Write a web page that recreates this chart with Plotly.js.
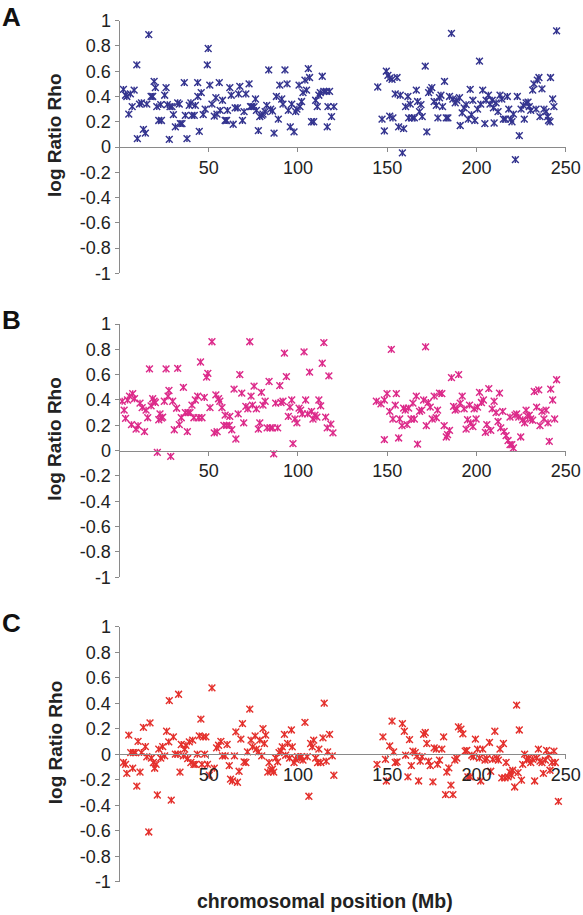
<!DOCTYPE html>
<html>
<head>
<meta charset="utf-8">
<script src="https://cdn.plot.ly/plotly-3.0.1.min.js"></script>
<style>html,body{margin:0;padding:0;background:#fff;}#chart{width:583px;height:915px;}</style>
</head>
<body>
<div id="chart"></div>
<script>
// ---------- data ----------
const xTickVals = [50, 100, 150, 200, 250];
const xTickText = ["50", "100", "150", "200", "250"];
const yTickVals = [1, 0.8, 0.6, 0.4, 0.2, 0, -0.2, -0.4, -0.6, -0.8, -1];
const yTickText = ["1", "0.8", "0.6", "0.4", "0.2", "0", "-0.2", "-0.4", "-0.6", "-0.8", "-1"];
const panelLetters = ["A", "B", "C"];
const yTitle = "log Ratio Rho";
const xTitle = "chromosomal position (Mb)";

// Panel A
const posA = [
  2.2,3.4,4.1,5.2,6.1,7.1,8.2,9.7,10,11.2,
  12.3,13.4,14.5,15.3,16.4,17.7,18.6,19.4,20.1,20.9,
  22.0,23.1,23.5,25.3,26.1,26.8,27.9,28.3,29.4,30.2,
  31.3,32.6,33.5,34.1,35,36.3,36.9,37.8,39.1,40,
  40.6,41.9,42.5,43.8,43.9,44.7,45.8,46.9,48,49.2,
  49.7,50.6,51.8,53.1,54,54.6,55.9,56.4,57.7,59.2,
  60,60.5,61.8,62.6,63.7,64.8,66.1,66.7,67.4,68.9,
  69.8,70.8,72.6,73.4,74.1,75.4,76.2,76.7,77.8,78.6,
  79.7,80.4,81.6,82.5,83.6,84.7,85.7,86.6,87.9,89,
  89.8,90.9,91.6,92.7,93.9,94.6,95.7,96.5,97.8,98.7,
  99.4,100.6,101.1,102,102.8,103.9,104.8,105.8,106.5,107.6,
  108.8,109.9,110.8,111.7,112.5,113.6,114.5,115.8,116.4,116.8,
  117.7,118.8,120.1,
  144.7,147.1,148.4,149.5,150.4,151.4,151.4,152.7,153.2,154.5,
  155.5,156.4,157.3,158.5,159.2,160.3,161.6,162,162.9,164,
  165.2,166.3,167,168.1,168.9,169.6,171.3,172.2,173.2,174.1,
  175,176.3,177.5,178.4,179.3,180.1,181,182.1,183.1,184,
  184.9,186,186.8,188.1,189,190.5,190.9,192,193.1,194.2,
  195.4,196.5,197.2,198,199.1,200.6,201.7,202.4,203.5,204.7,
  205.4,206.7,207.6,208.8,209.5,209.9,211,212.1,213.2,214.2,
  215.1,216.2,217.3,218.1,219.2,219.9,220.7,221.8,222.9,224,
  225,226.3,226.8,227.8,228.9,229.6,230.4,231.5,232.2,233.4,
  234.1,235,235.6,236.7,237.8,239,239.9,240.4,241.2,241.5,
  242.7,243.4,244.9
];
const rhoA = [
  0.456,0.41,0.40,0.26,0.42,0.32,0.45,0.65,0.066,0.34,
  0.35,0.14,0.11,0.34,0.89,0.40,0.40,0.52,0.47,0.32,
  0.21,0.335,0.21,0.41,0.47,0.335,0.06,0.32,0.32,0.256,
  0.16,0.35,0.34,0.185,0.185,0.51,0.25,0.066,0.33,0.35,
  0.25,0.25,0.33,0.51,0.40,0.124,0.43,0.256,0.30,0.65,
  0.78,0.49,0.34,0.245,0.39,0.26,0.51,0.29,0.37,0.21,
  0.21,0.29,0.47,0.41,0.18,0.31,0.31,0.42,0.48,0.21,
  0.28,0.42,0.50,0.32,0.32,0.32,0.38,0.29,0.13,0.24,
  0.25,0.26,0.28,0.33,0.61,0.30,0.285,0.11,0.40,0.22,
  0.49,0.38,0.34,0.61,0.50,0.29,0.16,0.34,0.12,0.28,
  0.30,0.49,0.32,0.36,0.43,0.53,0.45,0.62,0.55,0.20,
  0.20,0.37,0.32,0.41,0.43,0.56,0.44,0.44,0.16,0.32,
  0.44,0.24,0.32,
  0.475,0.22,0.127,0.60,0.567,0.546,0.245,0.535,0.23,0.42,
  0.55,0.16,0.41,-0.047,0.145,0.32,0.40,0.23,0.34,0.23,
  0.23,0.45,0.36,0.28,0.335,0.24,0.64,0.12,0.43,0.45,
  0.47,0.36,0.33,0.23,0.39,0.41,0.32,0.52,0.23,0.23,
  0.40,0.90,0.38,0.35,0.37,0.39,0.17,0.27,0.31,0.335,
  0.22,0.456,0.256,0.37,0.21,0.30,0.68,0.34,0.45,0.185,
  0.37,0.41,0.34,0.37,0.31,0.19,0.35,0.28,0.41,0.38,
  0.22,0.22,0.40,0.30,0.22,0.20,0.26,-0.10,0.40,0.09,
  0.30,0.33,0.22,0.35,0.356,0.32,0.29,0.45,0.50,0.30,
  0.53,0.55,0.24,0.46,0.30,0.28,0.24,0.21,0.20,0.55,
  0.38,0.32,0.92
];

// Panel B
const posB = [
  1.5,2.6,3.4,4.5,5.6,6.7,7.4,8.4,9.3,10.4,
  11.5,12.7,14,14.9,15.8,16.8,17.7,18.6,19.4,20.1,
  21.2,22,22.7,23.5,24.2,25.1,26.1,27.2,27.7,28.7,
  29.8,30.7,32,32.6,33.5,34.6,35.8,36.9,38,38.4,
  39.5,40.6,41.7,42.5,43.8,44.3,45.4,46.2,47.5,48.8,
  49.5,50.7,51.8,53.1,54,54.7,55.5,56.2,57.4,58.5,
  59.2,60,61.5,61.8,62.9,64.2,65.2,66.5,67.4,68.5,
  69.6,70.8,71.9,73,73.7,74.5,75.4,76.7,77.8,78.6,
  79.5,80.4,81.6,82.7,83.8,84.5,85.7,86.4,87.5,88.6,
  89.8,90.5,91.6,92.4,93.5,94.6,95.5,96.5,97.2,98.3,
  99.4,100.6,101.5,102.4,103.4,104.3,105.4,106.5,107.6,108.4,
  109.5,110.6,111.7,112.7,113.6,114.5,115.5,116.4,117.3,118.4,
  119.6,
  143.9,146.5,148.4,148.4,149.9,151.4,152.3,153.2,154.5,155.1,
  156.4,157,158.3,159.2,160.1,161.1,162,163.3,164.4,165.2,
  166.3,167,168.1,169.3,170.4,171.5,171.9,173,174.1,175.2,
  176.3,177.5,178.2,179.3,180.6,181.9,183.1,183.8,184.9,186,
  187.2,188.1,189,190,190.9,192,193.1,194.2,195,196.1,
  196.8,198,198.7,199.8,200.6,201.7,202.8,203.9,205,205.8,
  206.9,208,208.8,209.9,211,212.1,212.9,213.6,214.7,215.5,
  216.6,217.7,218.8,218.8,219.8,220.7,221.6,222.5,223.7,224.8,
  225.9,227,227.8,228.7,229.6,230.4,231.5,232.4,233.7,234.9,
  235.6,236.7,237.8,239,240.1,240.8,241.6,242.7,243.8,244.9
];
const rhoB = [
  0.39,0.32,0.255,0.40,0.43,0.205,0.45,0.41,0.17,0.197,
  0.375,0.34,0.15,0.32,0.26,0.645,0.354,0.41,0.39,0.38,
  -0.013,0.244,0.29,0.257,0.265,0.39,0.645,0.43,0.475,-0.045,
  0.39,0.165,0.335,0.65,0.205,0.26,0.50,0.30,0.15,0.30,
  0.30,0.36,0.26,0.40,0.43,0.26,0.70,0.26,0.42,0.58,
  0.61,0.34,0.86,0.14,0.44,0.15,0.41,0.39,0.34,0.20,
  0.28,0.20,0.20,0.27,0.165,0.486,0.092,0.29,0.60,0.454,
  0.22,0.35,0.33,0.86,0.43,0.36,0.51,0.33,0.17,0.22,
  0.46,0.36,0.39,0.18,0.546,0.18,0.18,-0.026,0.375,0.18,
  0.514,0.38,0.39,0.77,0.585,0.27,0.344,0.40,0.055,0.25,
  0.22,0.336,0.32,0.29,0.78,0.40,0.29,0.62,0.31,0.25,
  0.28,0.265,0.40,0.354,0.69,0.853,0.265,0.18,0.59,0.21,
  0.14,
  0.39,0.37,0.40,0.087,0.45,0.31,0.80,0.25,0.36,0.45,
  0.10,0.25,0.197,0.336,0.32,0.205,0.336,0.25,0.375,0.25,
  0.43,0.052,0.31,0.32,0.40,0.82,0.197,0.38,0.344,0.25,
  0.43,0.26,0.32,0.454,0.45,0.197,0.108,0.126,0.16,0.577,
  0.35,0.32,0.33,0.60,0.375,0.43,0.33,0.17,0.244,0.36,
  0.22,0.19,0.33,0.25,0.344,0.46,0.38,0.40,0.144,0.205,
  0.49,0.16,0.33,0.39,0.30,0.23,0.454,0.18,0.31,0.152,
  0.118,0.08,0.047,0.265,0.047,0.021,0.28,0.29,0.265,0.108,
  0.244,0.22,0.32,0.27,0.28,0.25,0.24,0.467,0.344,0.48,
  0.197,0.31,0.25,0.32,0.22,0.073,0.486,0.40,0.25,0.56
];

// Panel C
const posC = [
  2.2,3.4,4.1,5.2,6.3,7.4,7.8,8.9,9.7,10.4,
  11.5,12.3,13.4,14.5,15.3,16.4,17.1,17.9,19,19.7,
  20.5,21.2,22,23.1,24.2,25.3,26.4,27.6,27.9,29,
  30.2,31.3,32.6,33.1,33.9,34.6,35.8,36.5,37.2,38.2,
  39.1,40,41,41.7,42.5,43.6,44.7,45.6,46.2,46.9,
  47.7,48.4,49.3,50.3,51.8,53.1,54.4,55.5,56.8,57.7,
  59.2,60.3,61.5,62.2,63.3,64.4,65.2,66.1,67,68,
  68.9,69.8,70.8,71.7,73,73.7,74.5,76,76.7,77.8,
  78.6,79.7,80.4,81.2,81.9,83.1,83.8,84.9,85.7,86.4,
  87.5,88.6,89.4,90.5,91.2,92.4,93.1,94.2,95.3,96.3,
  96.8,97.8,98.7,99.8,100.9,102,102.8,103.9,105.2,106.1,
  107.1,108,108.8,109.9,111,111.7,112.8,114,114.7,115.8,
  116.6,117.7,119.2,120.1,
  144.3,147.6,149,149.5,151.4,152.7,153.6,154.5,155.5,158.5,
  159.6,160.3,161.6,162.5,163.5,164.4,165.7,166.7,167.6,168.5,
  169.5,170.4,171.3,172.2,173.2,174.1,175.6,176.3,177.5,178.2,
  179.3,180.6,181.6,182.7,183.4,184.5,185.7,186.8,187.9,189,
  189.9,191.3,192.4,193.7,194.6,195.2,196.5,197.4,198.3,199.4,
  200.6,201.7,202.4,203.5,204.8,205.8,207.3,208,209.1,210.3,
  211.4,212.3,213.2,214.2,215.1,216,216.6,217.7,218.8,219.6,
  220.3,221.4,222.5,223.3,224,225.2,225.9,227,228.1,229.3,
  230.4,231.5,232.6,233.7,234.7,235.6,236.7,237.5,238.6,239.3,
  240.4,241.2,242.3,243.4,244.2,245.9
];
const rhoC = [
  -0.065,-0.08,-0.15,0.15,0.013,-0.11,0.013,0.013,-0.25,0.10,
  -0.14,0.013,0.21,0.06,-0.02,-0.61,0.245,-0.03,-0.065,-0.11,
  -0.08,-0.32,0.04,-0.03,0.06,-0.013,0.18,0.097,0.42,-0.36,
  0.136,0,0,0.47,-0.14,0.076,-0.013,0.04,0.07,-0.034,
  0.097,-0.065,0.11,-0.08,-0.08,0,0.144,0.275,-0.08,0.136,
  0,0.136,-0.08,-0.165,0.52,-0.11,0.05,0.07,0.10,-0.013,
  -0.013,0.076,-0.09,-0.196,-0.21,-0.013,0.175,-0.22,-0.134,0.118,
  0.24,-0.06,-0.065,0.018,0.353,0.11,0.058,0.144,0.04,0.018,
  0.11,-0.013,0.20,0.084,0.15,-0.14,-0.065,-0.126,-0.118,-0.14,
  -0.03,-0.06,0.013,0.024,0.058,0.155,-0.008,0.084,-0.03,0.19,
  0.058,-0.065,-0.04,-0.02,-0.03,-0.02,-0.047,0.25,-0.02,-0.33,
  0.084,0.058,0.11,-0.03,-0.065,0.04,-0.065,0.128,0.40,-0.055,
  0.018,0.155,-0.013,-0.165,
  -0.08,0.136,-0.04,-0.21,0.065,0.26,0.018,-0.065,-0.06,0.24,
  0.18,-0.008,-0.178,0.115,-0.09,0.024,0.013,-0.013,-0.21,-0.055,
  -0.02,0.155,0.17,0.084,-0.055,-0.09,-0.217,0.05,0.04,-0.08,
  -0.047,0.04,0.136,-0.317,-0.14,-0.107,-0.243,-0.317,-0.047,-0.03,
  0.215,0.196,0.16,0.024,0.03,-0.178,-0.178,-0.008,-0.02,0.118,
  0.04,-0.03,-0.21,0.04,-0.047,-0.034,0.092,-0.134,-0.04,0.18,
  -0.03,-0.047,0.04,-0.186,0.084,-0.186,-0.065,-0.178,-0.14,-0.165,
  -0.126,-0.257,0.385,-0.144,0.19,-0.204,-0.08,0,-0.047,-0.03,
  -0.065,-0.04,-0.21,-0.03,0.04,-0.055,-0.065,-0.15,-0.047,0.03,
  -0.008,-0.126,-0.065,0.024,-0.065,-0.37
];

// ---------- styling / layout ----------
const W = 583, H = 915;
const FONT = "Liberation Sans, Arial, Helvetica, sans-serif";
const AXC = "#8a8a8a";
const colors = ["#34348f", "#dc2a8a", "#e4302c"];
// pixel geometry of the three panels (top of +1, bottom of -1)
const panelTop = [20.7, 324, 626.7];
const panelBot = [273.3, 577.3, 881.7];
const xLeft = 119.5, xRight = 565.7;
const py = p => 1 - p / H;

const series = [[posA, rhoA], [posB, rhoB], [posC, rhoC]];
const traces = [];
const layout = {
  width: W, height: H,
  margin: {l: 0, r: 0, t: 0, b: 0},
  paper_bgcolor: "#fff", plot_bgcolor: "rgba(0,0,0,0)",
  showlegend: false,
  font: {family: FONT, color: "#222"},
  annotations: []
};

series.forEach((s, i) => {
  const k = i === 0 ? "" : String(i + 1);
  const xa = "x" + k, ya = "y" + k;
  const mk = (sym, size) => ({
    x: s[0], y: s[1], xaxis: xa, yaxis: ya, type: "scatter", mode: "markers",
    hoverinfo: "skip",
    marker: {symbol: sym, size: size, color: colors[i], line: {color: colors[i], width: 1.45}}
  });
  traces.push(mk("x-thin-open", 6.8));
  traces.push(mk("line-ns-open", 4.9));

  const top = panelTop[i], bot = panelBot[i];
  const zeroPx = (top + bot) / 2;
  layout["xaxis" + k] = {
    domain: [xLeft / W, xRight / W], range: [0, 250],
    anchor: "free", position: py(zeroPx),
    showline: true, linecolor: AXC, linewidth: 1,
    ticks: "outside", ticklen: 4, tickcolor: AXC, tickwidth: 1,
    tickvals: xTickVals, ticktext: xTickText,
    tickfont: {family: FONT, size: 18, color: "#222"},
    showgrid: false, zeroline: false, fixedrange: true
  };
  layout["yaxis" + k] = {
    domain: [py(bot), py(top)], range: [-1, 1], anchor: xa,
    showline: true, linecolor: AXC, linewidth: 1,
    ticks: "outside", ticklen: 4, tickcolor: AXC, tickwidth: 1,
    tickvals: yTickVals, ticktext: yTickText,
    tickfont: {family: FONT, size: 18, color: "#222"},
    showgrid: false, zeroline: false, fixedrange: true
  };
  // panel letter
  layout.annotations.push({
    xref: "paper", yref: "paper", x: 0, y: py(top - 4), xanchor: "left", yanchor: "middle",
    text: "<b>" + panelLetters[i] + "</b>", showarrow: false,
    font: {family: FONT, size: 26, color: "#111"}
  });
  // y title
  layout.annotations.push({
    xref: "paper", yref: "paper", x: 55 / W, y: py(zeroPx - 11), xanchor: "center", yanchor: "middle",
    text: "<b>" + yTitle + "</b>", textangle: -90, showarrow: false,
    font: {family: FONT, size: 19, color: "#222"}
  });
});

layout.annotations.push({
  xref: "paper", yref: "paper", x: 324.5 / W, y: py(901), xanchor: "center", yanchor: "middle",
  text: "<b>" + xTitle + "</b>", showarrow: false,
  font: {family: FONT, size: 19.5, color: "#222"}
});

Plotly.newPlot("chart", traces, layout, {staticPlot: true, displayModeBar: false});
</script>
</body>
</html>
